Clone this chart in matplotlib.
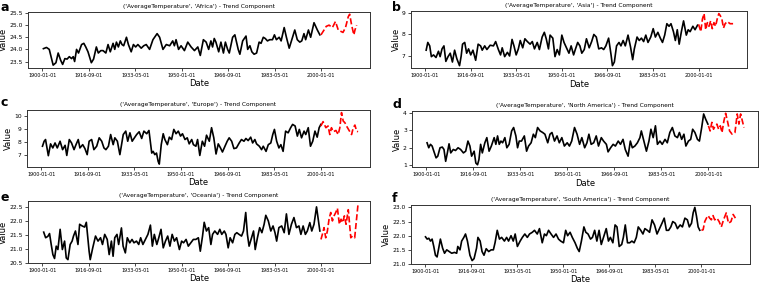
import matplotlib
matplotlib.use('Agg')
import matplotlib.pyplot as plt
import pandas as pd

# Trend components (decimal year, value)
africa_t = [1900.4, 1901.5, 1902.5, 1903.9, 1904.9, 1905.7, 1906.6, 1907.3, 1908.1, 1908.9, 1909.7, 1910.5, 1911.1, 1911.6,
            1912.3, 1913.0, 1914.1, 1914.9, 1915.6, 1916.4, 1917.6, 1918.4, 1919.4, 1920.1, 1921.0, 1921.8, 1922.8, 1923.6,
            1924.4, 1925.4, 1926.0, 1926.6, 1927.3, 1928.0, 1928.6, 1929.2, 1930.2, 1930.9, 1931.9, 1932.7, 1933.5, 1934.3,
            1935.5, 1936.4, 1937.3, 1938.5, 1939.7, 1941.2, 1942.1, 1943.3, 1944.5, 1945.7, 1946.8, 1947.4, 1948.0, 1948.9,
            1949.8, 1951.0, 1952.2, 1953.4, 1954.6, 1955.8, 1956.7, 1957.8, 1958.8, 1959.7, 1960.5, 1961.1, 1961.7, 1962.3,
            1963.3, 1964.1, 1965.0, 1965.7, 1966.5, 1967.1, 1968.3, 1969.1, 1970.3, 1970.9, 1971.9, 1973.1, 1973.7, 1974.5,
            1975.2, 1976.0, 1976.9, 1977.8, 1978.5, 1979.3, 1980.0, 1980.8, 1981.6, 1982.6, 1983.3, 1984.0, 1985.0, 1985.7,
            1986.8, 1987.6, 1988.6, 1989.8, 1990.6, 1991.5, 1992.4, 1993.1, 1993.9, 1994.5, 1995.5, 1996.3, 1997.5, 1998.7,
            1999.6]
africa_v = [24.03, 24.08, 24.0, 23.35, 23.45, 23.85, 23.55, 23.38, 23.62, 23.6, 23.7, 23.62, 23.7, 23.5,
            24.0, 23.85, 24.2, 24.25, 24.1, 23.9, 23.45, 23.6, 24.1, 23.85, 23.95, 23.95, 23.85, 24.2,
            23.9, 24.25, 24.0, 24.3, 24.1, 24.35, 24.2, 24.15, 24.5, 24.2, 23.9, 24.2, 24.1, 24.2,
            24.05, 24.15, 24.2, 24.0, 24.4, 24.65, 24.5, 24.0, 24.2, 24.15, 24.35, 24.15, 24.4, 24.0,
            24.15, 23.95, 24.3, 24.1, 23.95, 24.1, 23.75, 24.4, 24.3, 24.0, 24.35, 24.1, 24.45, 24.3,
            23.9, 24.3, 23.85, 24.3, 24.0, 23.85, 24.5, 24.6, 24.0, 23.8, 24.35, 24.55, 24.0, 24.15,
            23.9, 23.8, 23.85, 24.3, 24.25, 24.5, 24.45, 24.35, 24.4, 24.4, 24.6, 24.4, 24.5, 24.35,
            24.9, 24.5, 24.05, 24.5, 24.8, 24.4, 24.3, 24.35, 24.65, 24.4, 24.8, 24.5, 25.1, 24.8,
            24.6]
africa_fc_t = [2000.0, 2001.1, 2001.9, 2002.9, 2004.1, 2005.2, 2006.2, 2007.0, 2007.9, 2008.8, 2009.8, 2010.3, 2011.0,
               2011.8, 2012.2, 2012.8]
africa_fc_v = [24.6, 24.8, 24.95, 25.0, 24.9, 25.15, 24.8, 24.75, 24.7, 24.9, 25.35, 25.45, 25.0, 24.6, 24.8, 25.0]

asia_t = [1900.4, 1901.0, 1901.7, 1902.3, 1903.1, 1904.0, 1904.9, 1905.5, 1906.2, 1906.9, 1907.6, 1908.4, 1909.2, 1910.0,
          1910.8, 1911.6, 1912.6, 1913.2, 1913.7, 1914.5, 1915.2, 1915.9, 1916.7, 1917.5, 1918.5, 1919.4, 1920.3, 1920.9,
          1921.8, 1922.6, 1923.8, 1925.0, 1925.8, 1926.8, 1927.6, 1928.2, 1929.1, 1930.1, 1930.9, 1931.8, 1932.5, 1933.3,
          1934.1, 1934.8, 1935.7, 1936.5, 1937.4, 1938.4, 1939.2, 1940.0, 1941.0, 1941.8, 1942.8, 1943.6, 1944.3, 1945.1,
          1945.7, 1946.7, 1947.5, 1948.3, 1949.1, 1950.0, 1950.8, 1951.7, 1952.6, 1953.4, 1954.3, 1955.0, 1955.8, 1956.6,
          1957.3, 1958.2, 1959.0, 1960.0, 1960.9, 1961.7, 1962.6, 1963.5, 1964.5, 1965.3, 1966.1, 1967.1, 1968.0, 1968.5,
          1969.2, 1970.0, 1970.9, 1971.6, 1972.4, 1973.2, 1974.2, 1975.1, 1975.9, 1976.5, 1977.5, 1978.3, 1979.1, 1979.9,
          1980.7, 1981.5, 1982.5, 1983.4, 1984.2, 1985.1, 1986.0, 1986.8, 1987.6, 1988.4, 1989.2, 1989.9, 1990.8, 1991.5,
          1992.2, 1992.9, 1993.7, 1994.5, 1995.5, 1996.2, 1996.9, 1997.9, 1998.7, 1999.6]
asia_v = [7.27, 7.63, 7.47, 6.97, 7.05, 6.93, 7.22, 6.97, 7.33, 7.47, 6.75, 6.97, 7.13, 6.72,
          7.27, 6.88, 6.55, 7.0, 7.55, 7.63, 7.13, 7.33, 7.05, 7.27, 6.8, 7.55, 7.47, 7.27,
          7.47, 7.3, 7.5, 7.47, 7.67, 7.3, 7.05, 7.38, 6.97, 7.17, 7.0, 7.77, 7.47, 7.05,
          7.33, 7.72, 7.38, 7.8, 7.67, 7.55, 7.67, 7.33, 7.63, 7.3, 7.88, 8.1, 7.8, 7.33,
          7.97, 7.83, 6.97, 7.3, 7.05, 7.97, 7.63, 7.38, 7.13, 7.47, 7.05, 7.33, 7.63, 7.47,
          7.13, 7.3, 7.8, 7.38, 7.67, 8.0, 7.88, 7.33, 7.38, 7.3, 7.47, 7.83, 7.05, 6.55,
          6.72, 7.47, 7.63, 7.47, 7.72, 7.47, 7.97, 7.43, 6.83, 7.33, 7.88, 7.72, 7.83, 7.67,
          7.97, 7.63, 7.88, 8.27, 7.88, 8.1, 7.83, 7.63, 7.97, 8.5, 8.38, 8.5, 8.13, 7.72,
          8.22, 7.55, 8.13, 8.63, 7.97, 8.22, 8.13, 8.38, 8.22, 8.43]
asia_fc_t = [2000.0, 2000.8, 2001.4, 2002.0, 2002.6, 2003.2, 2003.8, 2004.4, 2005.0, 2005.6, 2006.2, 2006.8, 2007.4,
             2007.9, 2008.5, 2009.1, 2009.7, 2010.5, 2011.5, 2012.6]
asia_fc_v = [8.47, 8.13, 8.72, 8.97, 8.22, 8.55, 8.38, 8.63, 8.27, 8.55, 8.38, 8.72, 8.97,
             8.88, 8.72, 8.3, 8.5, 8.6, 8.5, 8.5]

europe_t = [1900.4, 1901.0, 1901.5, 1902.5, 1903.3, 1904.1, 1904.9, 1905.7, 1906.7, 1907.6, 1908.5, 1909.1, 1910.0, 1910.8,
            1911.7, 1912.4, 1913.2, 1913.8, 1914.8, 1915.6, 1916.4, 1917.1, 1918.0, 1918.8, 1919.8, 1920.7, 1921.6, 1922.4,
            1923.1, 1924.0, 1924.8, 1925.7, 1926.3, 1927.2, 1928.1, 1928.7, 1929.3, 1930.2, 1930.9, 1931.7, 1932.5, 1933.3,
            1934.1, 1935.0, 1935.9, 1936.7, 1937.7, 1938.5, 1939.5, 1940.0, 1940.6, 1941.2, 1941.8, 1942.2, 1942.9, 1943.6,
            1944.2, 1945.1, 1945.8, 1946.6, 1947.4, 1948.2, 1949.0, 1949.8, 1950.5, 1951.4, 1952.2, 1952.9, 1953.8, 1954.4,
            1955.3, 1955.9, 1956.7, 1957.6, 1958.4, 1959.1, 1960.1, 1960.9, 1961.7, 1962.5, 1963.3, 1964.1, 1964.8, 1965.7,
            1966.5, 1967.2, 1968.1, 1968.9, 1969.8, 1970.8, 1971.6, 1972.5, 1973.2, 1974.0, 1974.9, 1975.6, 1976.4, 1977.0,
            1978.0, 1978.8, 1979.4, 1980.4, 1981.2, 1982.1, 1982.8, 1983.4, 1984.2, 1985.0, 1985.7, 1986.5, 1987.4, 1988.3,
            1989.2, 1989.9, 1990.8, 1991.6, 1992.3, 1993.1, 1994.0, 1994.6, 1995.5, 1996.3, 1997.1, 1997.9, 1998.7, 1999.4,
            2000.0]
europe_v = [7.67, 8.05, 8.18, 6.95, 7.85, 7.54, 7.92, 7.54, 8.05, 7.41, 7.74, 6.97, 8.18, 7.92,
            7.41, 7.79, 8.18, 7.54, 7.79, 7.49, 7.03, 8.05, 8.18, 7.41, 7.67, 8.31, 8.05, 7.54,
            7.41, 7.67, 8.56, 7.79, 8.31, 8.05, 7.03, 7.79, 8.56, 8.82, 8.05, 8.69, 8.05, 8.31,
            8.56, 8.77, 8.26, 8.82, 8.62, 8.87, 7.15, 7.28, 7.03, 7.15, 6.51, 6.31, 7.79, 8.62,
            8.18, 7.79, 8.36, 8.18, 8.95, 8.62, 8.82, 8.44, 8.62, 8.18, 8.31, 7.85, 8.18, 7.79,
            7.67, 8.18, 6.97, 8.05, 7.67, 8.51, 8.05, 9.08, 8.31, 7.08, 7.85, 7.54, 7.23, 7.67,
            8.05, 8.31, 8.05, 7.49, 7.54, 7.92, 8.18, 8.05, 8.26, 8.1, 8.36, 7.92, 8.18, 7.85,
            7.67, 7.41, 7.67, 7.28, 7.79, 7.92, 8.56, 8.95, 8.05, 7.54, 7.79, 7.28, 8.82, 8.69,
            9.08, 9.33, 9.21, 8.44, 8.95, 8.31, 8.82, 8.56, 9.08, 7.67, 8.05, 8.82, 8.36, 9.08,
            9.33]
europe_fc_t = [2000.0, 2000.8, 2001.8, 2002.6, 2003.2, 2003.8, 2004.4, 2005.4, 2006.2, 2006.8, 2007.4, 2008.0, 2008.6,
               2009.4, 2010.4, 2011.0, 2011.6, 2012.2, 2012.8, 2013.3]
europe_fc_v = [9.21, 9.54, 9.08, 9.21, 8.56, 9.08, 8.77, 8.87, 8.56, 9.08, 10.23, 9.59, 9.46,
               9.13, 8.77, 8.56, 9.08, 9.28, 8.82, 8.77]

namerica_t = [1900.2, 1900.8, 1901.4, 1902.0, 1902.6, 1903.4, 1904.0, 1904.8, 1905.6, 1906.2, 1906.8, 1907.4, 1908.0,
              1908.6, 1909.5, 1910.3, 1911.2, 1912.1, 1913.1, 1913.9, 1914.7, 1915.4, 1916.0, 1916.9, 1917.5, 1918.1,
              1918.6, 1919.2, 1919.8, 1920.7, 1921.4, 1922.2, 1923.0, 1924.0, 1924.6, 1925.2, 1925.8, 1926.4, 1927.0,
              1927.8, 1928.5, 1929.3, 1930.2, 1930.9, 1931.7, 1932.3, 1932.9, 1933.7, 1934.7, 1935.5, 1936.2, 1937.1,
              1937.9, 1938.6, 1939.4, 1940.3, 1941.2, 1942.0, 1943.0, 1943.8, 1944.5, 1945.4, 1946.3, 1947.1, 1948.0,
              1948.9, 1949.9, 1950.7, 1951.5, 1952.5, 1953.4, 1954.3, 1955.1, 1956.1, 1956.9, 1957.6, 1958.4, 1959.3,
              1960.2, 1961.0, 1962.0, 1962.8, 1963.8, 1964.4, 1965.3, 1966.2, 1967.0, 1968.0, 1968.8, 1969.7, 1970.5,
              1971.5, 1972.3, 1973.0, 1973.9, 1974.8, 1975.7, 1976.2, 1977.1, 1978.0, 1978.9, 1979.6, 1980.4, 1981.2,
              1981.9, 1982.8, 1983.6, 1984.6, 1985.4, 1986.3, 1987.2, 1988.1, 1989.0, 1989.7, 1990.5, 1991.3, 1992.0,
              1992.9, 1993.7, 1994.4, 1995.2, 1996.1, 1996.8, 1997.6, 1998.3, 1999.0, 1999.8]
namerica_v = [2.28, 1.99, 2.19, 2.09, 1.79, 1.4, 1.5, 1.99, 2.03, 1.89, 1.2, 1.69, 2.22,
              1.69, 1.89, 1.83, 1.99, 1.89, 1.69, 1.79, 2.38, 2.09, 1.5, 1.79, 1.1, 1.0,
              1.3, 2.19, 1.69, 2.28, 2.58, 1.79, 2.09, 2.58, 2.19, 2.68, 2.19, 2.38, 2.28,
              2.58, 1.99, 2.19, 2.97, 3.17, 2.68, 1.99, 2.38, 2.38, 2.68, 1.79, 2.09, 2.28,
              2.78, 2.58, 3.17, 2.97, 2.88, 2.78, 2.28, 2.78, 2.88, 2.38, 2.68, 2.28, 2.58,
              2.09, 2.28, 2.09, 2.38, 3.17, 2.78, 2.19, 2.58, 1.99, 2.28, 2.78, 2.19, 2.28,
              2.68, 2.09, 2.58, 2.38, 2.19, 1.75, 1.99, 2.19, 2.09, 2.38, 2.19, 2.48, 1.89,
              1.5, 2.38, 1.99, 2.09, 2.28, 2.58, 2.97, 2.38, 1.79, 2.38, 3.07, 2.58, 3.27,
              2.19, 2.38, 2.19, 2.48, 2.28, 2.88, 3.17, 2.68, 2.58, 2.88, 2.48, 2.78, 2.09,
              2.38, 2.48, 3.07, 2.88, 2.48, 2.38, 3.17, 3.96, 3.66, 3.37]
namerica_fc_t = [2000.0, 2000.6, 2001.2, 2001.8, 2002.4, 2003.0, 2003.6, 2004.2, 2004.8, 2005.5, 2006.1, 2006.7,
                 2007.5, 2008.4, 2009.4, 2010.2, 2010.8, 2011.4, 2012.0, 2012.6]
namerica_fc_v = [3.27, 2.97, 3.47, 3.07, 3.27, 3.37, 3.07, 3.27, 2.88, 3.57, 4.0, 3.57,
                 2.97, 2.78, 2.88, 3.96, 3.37, 3.96, 3.57, 3.17]

oceania_t = [1900.5, 1901.2, 1902.0, 1902.6, 1903.2, 1903.8, 1904.4, 1905.0, 1905.6, 1906.4, 1907.2, 1908.0, 1908.6,
             1909.2, 1910.0, 1910.7, 1911.2, 1911.9, 1912.8, 1913.4, 1914.3, 1915.2, 1915.8, 1916.8, 1917.2, 1918.1,
             1919.1, 1920.0, 1920.9, 1921.6, 1922.4, 1923.3, 1924.0, 1924.8, 1925.4, 1926.0, 1926.8, 1927.4, 1928.4,
             1929.0, 1929.8, 1930.5, 1931.4, 1932.2, 1932.9, 1933.8, 1934.6, 1935.3, 1936.1, 1937.0, 1937.9, 1938.8,
             1939.5, 1940.2, 1941.1, 1941.8, 1942.6, 1943.4, 1944.2, 1945.0, 1945.8, 1946.6, 1947.4, 1948.2, 1949.2,
             1950.0, 1950.7, 1951.6, 1952.4, 1953.3, 1954.2, 1955.1, 1956.0, 1956.7, 1957.5, 1958.1, 1958.9, 1959.7,
             1960.5, 1961.1, 1961.9, 1962.9, 1963.7, 1964.4, 1965.3, 1965.9, 1966.7, 1967.4, 1968.3, 1969.1, 1969.8,
             1970.6, 1971.5, 1972.2, 1973.0, 1973.6, 1974.2, 1975.1, 1975.8, 1976.4, 1977.2, 1978.0, 1978.8, 1979.6,
             1980.2, 1981.1, 1982.0, 1982.8, 1983.5, 1984.1, 1984.9, 1985.9, 1986.8, 1987.6, 1988.5, 1989.4, 1990.3,
             1991.2, 1992.1, 1992.8, 1993.6, 1994.4, 1995.1, 1996.0, 1996.7, 1997.5, 1998.4, 1999.2, 1999.6]
oceania_v = [21.6, 21.4, 21.45, 21.55, 21.16, 20.8, 20.66, 21.1, 20.98, 21.7, 20.98, 21.28, 20.68,
             20.62, 21.16, 21.28, 21.46, 21.64, 21.16, 21.88, 21.82, 21.78, 21.95, 20.92, 20.62, 21.04,
             21.46, 21.28, 21.4, 21.16, 21.52, 21.34, 20.8, 21.28, 20.74, 21.4, 21.52, 21.16, 21.75,
             21.1, 20.86, 21.4, 21.22, 21.34, 21.22, 21.28, 21.16, 21.4, 21.16, 21.34, 21.52, 21.85,
             21.1, 21.52, 21.16, 21.4, 21.7, 21.04, 21.28, 21.46, 21.1, 21.52, 21.28, 21.4, 20.98,
             21.28, 21.22, 21.34, 21.1, 21.22, 21.34, 21.34, 21.4, 20.92, 21.46, 21.95, 21.64, 21.76,
             21.16, 21.52, 21.64, 21.52, 21.7, 21.52, 21.64, 21.52, 21.04, 21.4, 21.22, 21.52, 21.58,
             21.52, 21.46, 21.64, 22.3, 21.52, 21.1, 21.4, 21.64, 20.98, 21.4, 21.76, 21.58, 21.88,
             22.2, 22.0, 21.64, 21.82, 21.58, 21.28, 21.76, 21.82, 21.58, 22.25, 21.52, 21.88, 22.12,
             21.76, 21.82, 21.52, 21.82, 21.52, 21.64, 21.94, 21.64, 21.88, 22.5, 21.94, 21.64]
oceania_fc_t = [2000.0, 2000.5, 2001.1, 2001.7, 2002.3, 2002.9, 2003.5, 2004.1, 2004.7, 2005.3, 2005.9, 2006.6,
                2007.2, 2007.8, 2008.4, 2009.0, 2009.8, 2010.7, 2011.3, 2012.1, 2012.7, 2013.3]
oceania_fc_v = [21.34, 21.52, 21.76, 21.4, 21.64, 22.06, 22.3, 22.0, 22.18, 22.3, 22.45, 21.88,
                22.06, 21.94, 22.18, 21.88, 22.4, 21.4, 21.46, 21.4, 22.0, 22.6]

samerica_t = [1900.0, 1900.6, 1901.2, 1901.8, 1902.4, 1903.0, 1903.6, 1904.2, 1904.8, 1905.4, 1906.2, 1906.9, 1907.7,
              1908.6, 1909.5, 1910.5, 1911.3, 1911.7, 1912.5, 1913.1, 1913.9, 1914.5, 1915.2, 1916.1, 1916.9, 1917.6,
              1918.5, 1919.0, 1919.8, 1920.5, 1921.2, 1922.0, 1922.9, 1923.8, 1924.6, 1925.2, 1926.0, 1926.8, 1927.6,
              1928.6, 1929.4, 1930.1, 1931.0, 1931.8, 1932.5, 1933.3, 1934.3, 1935.1, 1936.0, 1936.9, 1937.7, 1938.7,
              1939.5, 1940.5, 1941.3, 1942.3, 1943.1, 1943.8, 1944.6, 1945.5, 1946.4, 1947.3, 1948.2, 1949.0, 1950.0,
              1950.8, 1951.5, 1952.4, 1953.2, 1954.2, 1955.0, 1955.7, 1956.5, 1957.4, 1958.1, 1958.9, 1959.8, 1960.5,
              1961.3, 1962.1, 1962.9, 1963.7, 1964.5, 1965.5, 1966.3, 1967.0, 1967.9, 1968.7, 1969.4, 1970.2, 1971.1,
              1971.7, 1972.4, 1973.2, 1974.0, 1974.8, 1975.6, 1976.4, 1977.1, 1978.0, 1978.8, 1979.5, 1980.4, 1981.2,
              1982.1, 1983.0, 1983.9, 1984.8, 1985.7, 1986.5, 1987.3, 1988.1, 1988.9, 1989.6, 1990.5, 1991.3, 1992.3,
              1993.1, 1994.0, 1994.9, 1995.6, 1996.4, 1997.0, 1997.6, 1998.2, 1998.8, 1999.4]
samerica_v = [21.96, 21.88, 21.91, 21.81, 21.88, 21.62, 21.31, 21.25, 21.56, 21.88, 21.56, 21.38, 21.5,
              21.44, 21.38, 21.41, 21.38, 21.62, 21.5, 21.81, 21.94, 22.06, 21.81, 21.31, 21.12, 21.19,
              21.56, 21.94, 21.81, 21.44, 21.31, 21.54, 21.44, 21.5, 21.5, 21.75, 22.19, 21.88, 21.94,
              21.81, 21.94, 21.81, 22.0, 21.81, 22.06, 21.62, 21.81, 21.94, 22.06, 21.94, 22.06, 22.12,
              22.19, 22.06, 22.25, 21.75, 22.06, 22.0, 22.19, 22.06, 21.94, 22.06, 21.88, 21.81, 21.75,
              22.19, 22.0, 22.12, 21.94, 21.75, 21.56, 21.44, 21.81, 22.31, 22.12, 22.06, 21.88, 21.94,
              22.19, 21.81, 22.19, 21.69, 21.94, 22.25, 21.81, 21.94, 21.75, 22.38, 22.31, 21.62, 21.69,
              21.94, 22.38, 21.75, 21.75, 21.81, 21.75, 21.94, 22.31, 22.19, 22.06, 22.25, 22.19, 22.12,
              22.56, 22.38, 22.06, 22.25, 22.44, 22.62, 22.19, 22.19, 22.31, 22.5, 22.44, 22.25, 22.38,
              22.31, 22.62, 22.56, 22.31, 22.44, 22.81, 23.0, 22.69, 22.31, 22.19]
samerica_fc_t = [2000.0, 2000.6, 2001.2, 2001.8, 2002.4, 2003.0, 2003.6, 2004.2, 2004.8, 2005.6, 2006.4, 2007.2,
                 2008.0, 2009.0, 2009.8, 2010.7, 2011.5, 2012.3]
samerica_fc_v = [22.19, 22.21, 22.5, 22.62, 22.71, 22.62, 22.56, 22.71, 22.56, 22.62, 22.5, 22.31,
                 22.56, 22.81, 22.44, 22.5, 22.75, 22.62]

regions = ['Africa', 'Asia', 'Europe', 'North America', 'Oceania', 'South America']
letters = ['a', 'b', 'c', 'd', 'e', 'f']
series = [(africa_t, africa_v, africa_fc_t, africa_fc_v),
          (asia_t, asia_v, asia_fc_t, asia_fc_v),
          (europe_t, europe_v, europe_fc_t, europe_fc_v),
          (namerica_t, namerica_v, namerica_fc_t, namerica_fc_v),
          (oceania_t, oceania_v, oceania_fc_t, oceania_fc_v),
          (samerica_t, samerica_v, samerica_fc_t, samerica_fc_v)]

tick_dates = ['1900-01-01', '1916-09-01', '1933-05-01', '1950-01-01', '1966-09-01', '1983-05-01', '2000-01-01']
y_ticks = [[23.5, 24.0, 24.5, 25.0, 25.5],
           [7, 8, 9],
           [7, 8, 9, 10],
           [1, 2, 3, 4],
           [20.5, 21.0, 21.5, 22.0, 22.5],
           [21.0, 21.5, 22.0, 22.5, 23.0]]


def to_dates(years):
    return [pd.Timestamp(int(y), 1, 1) + pd.Timedelta(days=(y - int(y)) * 365.25) for y in years]


boxes = [[0.0364, 0.7608, 0.4504, 0.1979],
         [0.5404, 0.7587, 0.4421, 0.2025],
         [0.0351, 0.4110, 0.4517, 0.2003],
         [0.5417, 0.4088, 0.4557, 0.2000],
         [0.0364, 0.0707, 0.4504, 0.2180],
         [0.5408, 0.0671, 0.4460, 0.2095]]
letter_pos = [(0.001, 0.996), (0.516, 0.995), (0.001, 0.662), (0.516, 0.654), (0.001, 0.325), (0.516, 0.322)]

fig = plt.figure(figsize=(7.6, 2.83), dpi=100)

for i in range(6):
    t, v, ft, fv = series[i]
    ax = fig.add_axes(boxes[i])
    ax.plot(to_dates(t), v, color='black', linewidth=1.2)
    ax.plot(to_dates(ft), fv, color='red', linestyle='--', linewidth=1.2)
    ax.set_xlim(pd.Timestamp('1894-10-01'), pd.Timestamp('2017-08-01'))
    ax.set_xticks(pd.to_datetime(tick_dates))
    ax.set_xticklabels(tick_dates, fontsize=3.5)
    ax.set_yticks(y_ticks[i])
    ax.tick_params(axis='y', labelsize=4.3, length=2, width=0.5, pad=1.5)
    ax.tick_params(axis='x', length=2, width=0.5, pad=1.5)
    ax.set_xlabel('Date', fontsize=6, labelpad=1)
    ax.set_ylabel('Value', fontsize=6, labelpad=1)
    ax.set_title("('AverageTemperature', '" + regions[i] + "') - Trend Component", fontsize=4.2, pad=3)
    for s in ax.spines.values():
        s.set_linewidth(0.7)
        s.set_color('#333333')
    fig.text(letter_pos[i][0], letter_pos[i][1], letters[i], fontsize=9, fontweight='bold',
             ha='left', va='top')

plt.savefig('out.png', dpi=100)
